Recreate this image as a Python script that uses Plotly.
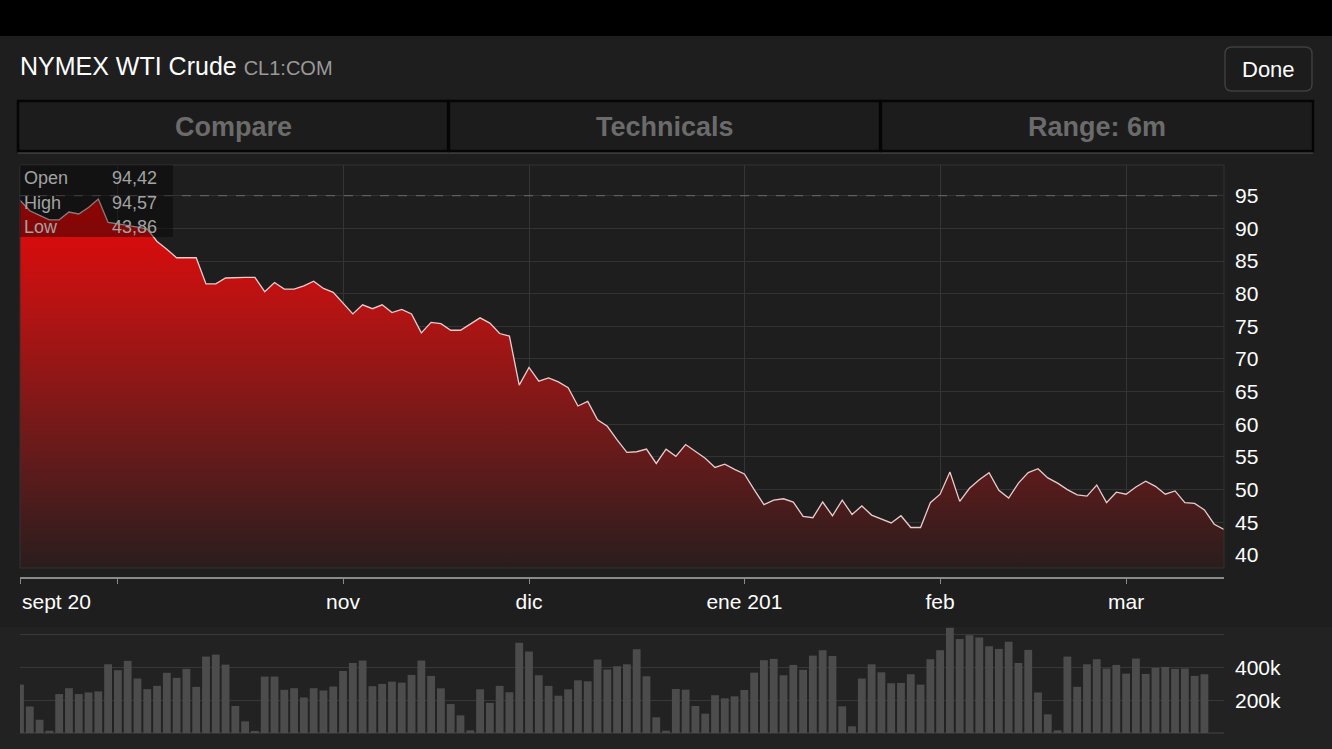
import plotly.graph_objects as go

W, H = 1332, 749

# daily settle, CL1 front month, sept 2014 .. mid march 2015 (one value per trading day)
price = [
    94.3, 92.7, 92.0, 91.3, 91.3, 92.5, 92.2, 93.2, 94.5, 90.9,
    90.7, 90.5, 90.2, 89.9, 88.0, 86.8, 85.5, 85.5, 85.5, 81.5,
    81.5, 82.4, 82.5, 82.5, 82.5, 80.3, 81.7, 80.7, 80.7, 81.2,
    81.9, 80.8, 80.2, 78.5, 76.9, 78.3, 77.7, 78.3, 77.1, 77.6,
    76.9, 74.0, 75.6, 75.4, 74.4, 74.4, 75.3, 76.3, 75.5, 73.9,
    73.5, 66.0, 68.7, 66.6, 67.1, 66.5, 65.6, 62.8, 63.5, 60.7,
    59.7, 57.6, 55.7, 55.8, 56.2, 54.0, 56.2, 55.1, 56.9, 55.8,
    54.8, 53.4, 53.9, 53.1, 52.4, 50.0, 47.7, 48.4, 48.6, 48.1,
    45.9, 45.7, 48.1, 46.0, 48.4, 46.2, 47.5, 46.1, 45.5, 44.9,
    46.0, 44.2, 44.2, 48.0, 49.3, 52.7, 48.2, 50.2, 51.5, 52.6,
    49.9, 48.7, 51.0, 52.6, 53.2, 51.8, 51.0, 50.0, 49.2, 49.0,
    50.7, 48.0, 49.6, 49.3, 50.4, 51.3, 50.5, 49.3, 49.8, 48.0,
    47.9, 46.9, 44.7, 43.9,
]

# volume (thousands), last day not reported yet
volume = [
    296, 162, 81, 14, 238, 274, 238, 248, 254, 420,
    384, 441, 333, 268, 288, 368, 337, 392, 282, 467,
    479, 418, 165, 71, 10, 345, 345, 264, 274, 217,
    274, 260, 284, 379, 428, 443, 286, 300, 314, 308,
    355, 443, 349, 273, 177, 108, 16, 267, 184, 288,
    249, 551, 498, 353, 288, 228, 267, 322, 316, 449,
    388, 408, 420, 512, 347, 96, 14, 269, 265, 165,
    118, 231, 212, 224, 263, 369, 445, 453, 353, 416,
    386, 473, 506, 471, 163, 41, 333, 420, 371, 304,
    306, 359, 296, 451, 506, 643, 575, 598, 583, 530,
    514, 558, 428, 508, 248, 114, 16, 467, 282, 420,
    451, 394, 416, 363, 455, 361, 398, 404, 392, 394,
    349, 359,
]
volume = [v * 1000 for v in volume]

tick_idx = [0, 10, 33, 52, 74, 94, 113]
tick_text = ["sept 20", "", "nov", "dic", "ene 201", "feb", "mar"]
price_ticks = [40, 45, 50, 55, 60, 65, 70, 75, 80, 85, 90, 95]
vol_ticks = [200000, 400000, 600000]
vol_text = ["200k", "400k", ""]

stat_names = ["Open", "High", "Low"]
stat_values = ["94,42", "94,57", "43,86"]
tabs = ["Compare", "Technicals", "Range: 6m"]


def px(x):
    return x / W


def py(y):
    return 1 - y / H


def rounded(x0, y0, x1, y1, r):
    pts = [("M", x0 + r, y0), ("L", x1 - r, y0), ("Q", x1, y0, x1, y0 + r),
           ("L", x1, y1 - r), ("Q", x1, y1, x1 - r, y1), ("L", x0 + r, y1),
           ("Q", x0, y1, x0, y1 - r), ("L", x0, y0 + r), ("Q", x0, y0, x0 + r, y0)]
    out = ""
    for p in pts:
        out += p[0] + " "
        coords = p[1:]
        for k in range(0, len(coords), 2):
            out += f"{px(coords[k]):.5f},{py(coords[k+1]):.5f} "
    return out + "Z"


FONT = "Liberation Sans, Arial, sans-serif"
idx = list(range(len(price)))

fig = go.Figure()
fig.add_trace(go.Scatter(
    x=idx, y=price, mode="lines", fill="tozeroy",
    line=dict(color="#e8cccc", width=1.3),
    fillgradient=dict(type="vertical", start=38, stop=95,
                      colorscale=[[0, "#2a1d1d"], [0.35, "#6e1a1a"],
                                  [0.7, "#b51313"], [1, "#ea0808"]]),
    hoverinfo="skip", showlegend=False))
fig.add_trace(go.Bar(
    x=list(range(len(volume))), y=volume, xaxis="x2", yaxis="y2",
    marker=dict(color="#4c4c4c", line=dict(width=0)), width=0.8,
    hoverinfo="skip", showlegend=False))

# backgrounds / chrome
shapes = [
    dict(type="rect", xref="paper", yref="paper", x0=0, x1=1, y0=py(36), y1=1,
         fillcolor="#000000", line=dict(width=0), layer="below"),
    dict(type="rect", xref="paper", yref="paper", x0=0, x1=1, y0=0, y1=py(627),
         fillcolor="#222222", line=dict(width=0), layer="below"),
    dict(type="line", xref="paper", yref="paper", x0=px(18), x1=px(1313),
         y0=py(153), y1=py(153), line=dict(color="#3a3a3a", width=2)),
    dict(type="path", xref="paper", yref="paper", path=rounded(1225, 47, 1312, 91, 7),
         fillcolor="#1c1c1c", line=dict(color="#3e3e3e", width=1.5)),
    # plot frame
    dict(type="rect", xref="paper", yref="paper", x0=px(20), x1=px(1224),
         y0=py(568), y1=py(165), line=dict(color="#333333", width=1)),
    # 95 reference line
    dict(type="line", xref="paper", yref="y", x0=px(20), x1=px(1224), y0=95, y1=95,
         line=dict(color="#6a6a6a", width=1, dash="dash")),
    # stats box
    dict(type="rect", xref="paper", yref="paper", x0=px(20), x1=px(173),
         y0=py(237), y1=py(165), fillcolor="rgba(0,0,0,0.4)", line=dict(width=0)),
]
tab_edges = [(18, 448), (449, 880), (881, 1313)]
for x0, x1 in tab_edges:
    shapes.append(dict(type="rect", xref="paper", yref="paper", x0=px(x0), x1=px(x1),
                       y0=py(151), y1=py(101), fillcolor="#1c1c1c",
                       line=dict(color="#050505", width=2.5)))

annotations = [
    dict(xref="paper", yref="paper", x=px(18), y=py(66), xanchor="left", yanchor="middle",
         text="NYMEX WTI Crude <span style='font-size:20px;color:#9a9a9a'>CL1:COM</span>",
         showarrow=False, font=dict(family=FONT, size=25, color="#ffffff")),
    dict(xref="paper", yref="paper", x=px(1268), y=py(69), xanchor="center", yanchor="middle",
         text="Done", showarrow=False, font=dict(family=FONT, size=22, color="#ffffff")),
    dict(xref="x", yref="paper", x=tick_idx[0], y=py(601), xanchor="left", yanchor="middle",
         text=tick_text[0], showarrow=False, font=dict(family=FONT, size=21, color="#ffffff")),
]
for (x0, x1), t in zip(tab_edges, tabs):
    annotations.append(dict(xref="paper", yref="paper", x=px((x0 + x1) / 2), y=py(127),
                            xanchor="center", yanchor="middle", text="<b>" + t + "</b>",
                            showarrow=False,
                            font=dict(family=FONT, size=27, color="#6b6b6b")))
for k, (n, v) in enumerate(zip(stat_names, stat_values)):
    yy = py(178 + 24.5 * k)
    annotations.append(dict(xref="paper", yref="paper", x=px(22), y=yy, xanchor="left",
                            yanchor="middle", text=n, showarrow=False,
                            font=dict(family=FONT, size=18, color="#a3a3a3")))
    annotations.append(dict(xref="paper", yref="paper", x=px(159), y=yy, xanchor="right",
                            yanchor="middle", text=v, showarrow=False,
                            font=dict(family=FONT, size=18, color="#a3a3a3")))

fig.update_layout(
    width=W, height=H, margin=dict(l=0, r=0, t=0, b=0),
    paper_bgcolor="#1e1e1e", plot_bgcolor="rgba(0,0,0,0)",
    font=dict(family=FONT, color="#ffffff"),
    shapes=shapes, annotations=annotations,
    xaxis=dict(domain=[px(20), px(1224)], range=[0, len(price) - 1],
               anchor="free", position=py(578),
               tickvals=tick_idx, ticktext=[""] + tick_text[1:],
               showgrid=True, gridcolor="#353535", gridwidth=1,
               showline=True, linecolor="#8a8a8a", linewidth=1.5,
               ticks="outside", ticklen=5, tickcolor="#8a8a8a",
               tickfont=dict(size=21, color="#ffffff"), zeroline=False),
    yaxis=dict(domain=[py(568), py(165)], range=[38, 99.7], side="right",
               tickvals=price_ticks, showgrid=True, gridcolor="#333333",
               ticks="", ticklabelstandoff=10, zeroline=False,
               tickfont=dict(size=21, color="#ffffff")),
    xaxis2=dict(domain=[px(20), px(1224)], range=[0, len(price) - 1], anchor="y2",
                showgrid=False, showticklabels=False, zeroline=False, ticks=""),
    yaxis2=dict(domain=[py(733), py(626)], range=[0, 654000], side="right", anchor="x2",
                tickvals=vol_ticks, ticktext=vol_text, showgrid=True, gridcolor="#383838",
                zeroline=True, zerolinecolor="#333333", ticks="", ticklabelstandoff=10,
                tickfont=dict(size=21, color="#ffffff")),
)

# page has a default body margin; drop it so the figure fills the window
fig.write_html("out.html", config={"displayModeBar": False},
               post_script="document.body.style.margin='0px';")
